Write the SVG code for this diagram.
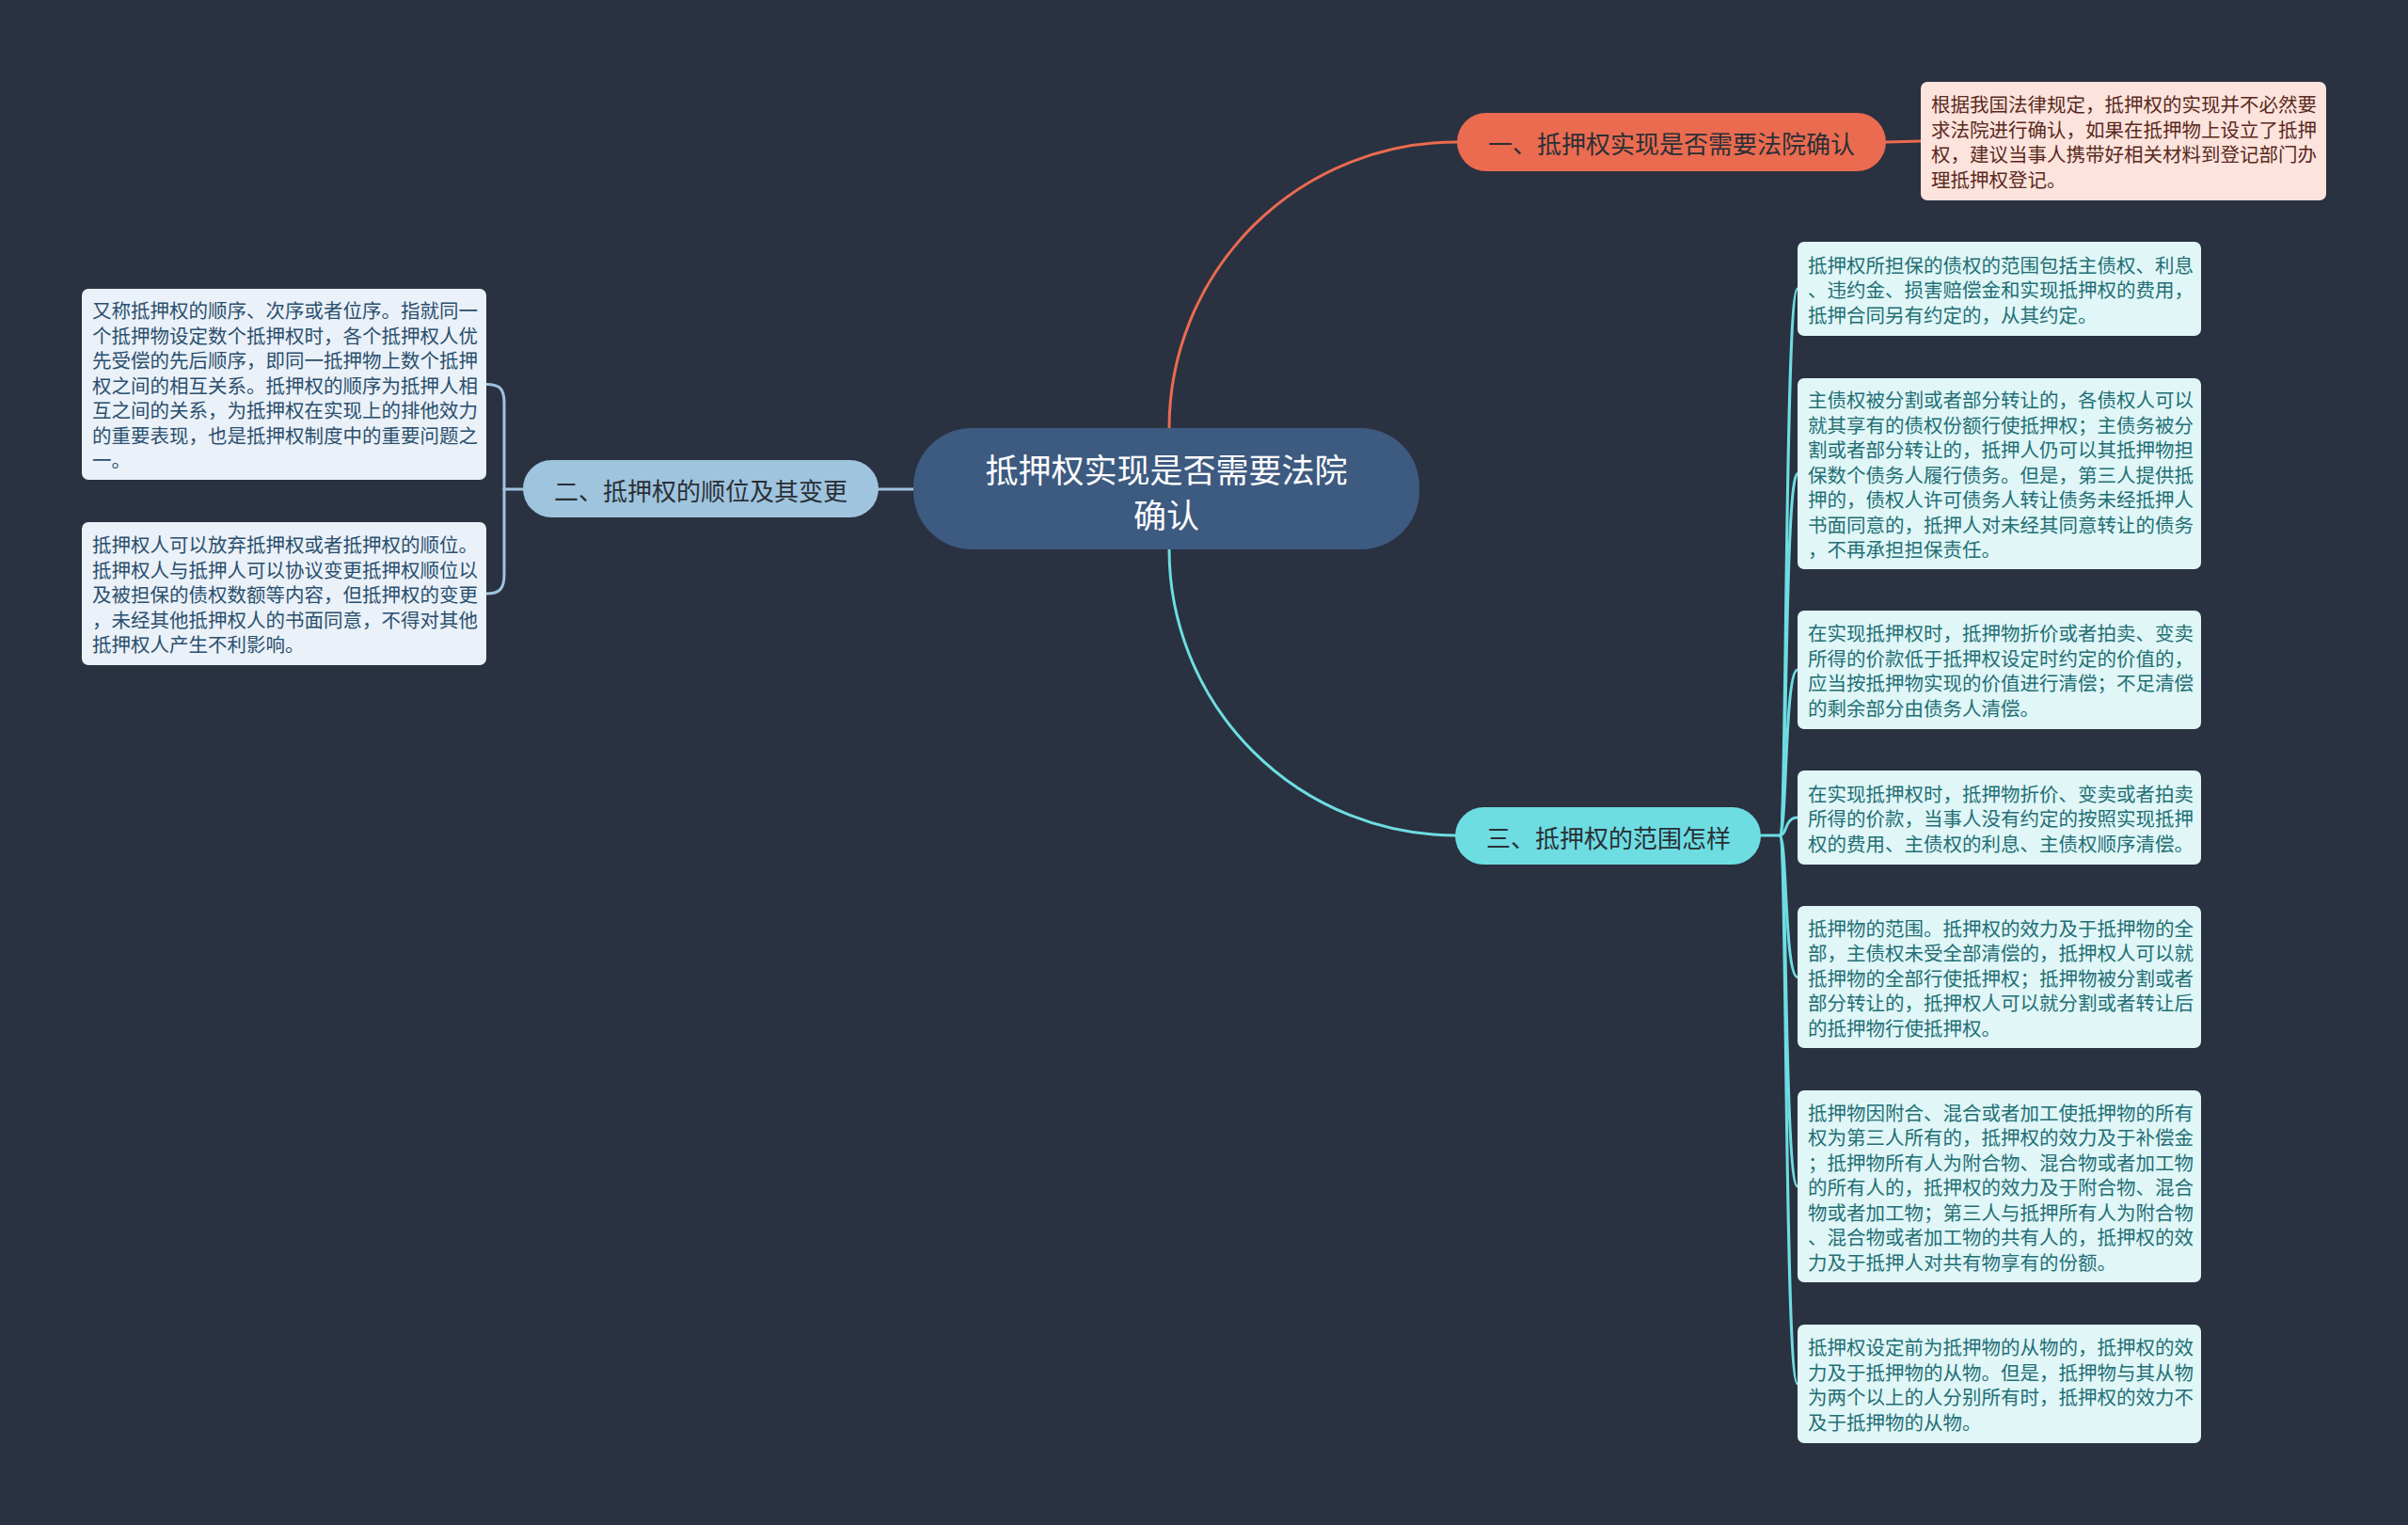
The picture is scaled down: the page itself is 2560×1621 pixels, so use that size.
<svg xmlns="http://www.w3.org/2000/svg" width="2560" height="1621" viewBox="0 0 2560 1621">
<style>
text{font-family:"Noto Sans CJK SC","Noto Sans",sans-serif;dominant-baseline:central}
.leaf{font-size:20.5px}
.lt text{fill:#2b4f6e}
.rt text{fill:#236f75}
.ot text{fill:#5a2a1e}
.br{font-size:26px;fill:#2a2f36;text-anchor:middle}
.c{fill:none;stroke-width:3;stroke-linecap:round}
</style>
<rect width="2560" height="1621" fill="#2a3140"/>
<g id="connectors">
<path class="c" stroke="#ea6b50" d="M1243,455 A305 304 0 0 1 1549,151"/>
<path class="c" stroke="#ea6b50" d="M2005,151 L2042,150"/>
<path class="c" stroke="#6ddde2" d="M1243,584 A305 304 0 0 0 1547,888"/>
<path class="c" stroke="#9ec4de" d="M971,520 L934,520"/>
<path class="c" stroke="#9ec4de" d="M556,520 L536,520"/>
<path class="c" stroke="#9ec4de" d="M536,520 L536,428 C536,413 531,408.5 517,408.5"/>
<path class="c" stroke="#9ec4de" d="M536,520 L536,611 C536,626 531,631 517,631"/>
<path class="c" stroke="#6ddde2" d="M1872,888 L1892,888"/>
<path class="c" stroke="#6ddde2" d="M1892,888 C1900,888 1897,307 1911,307"/>
<path class="c" stroke="#6ddde2" d="M1892,888 C1900,888 1897,503.5 1911,503.5"/>
<path class="c" stroke="#6ddde2" d="M1892,888 C1900,888 1897,712 1911,712"/>
<path class="c" stroke="#6ddde2" d="M1892,888 C1900,888 1897,869 1911,869"/>
<path class="c" stroke="#6ddde2" d="M1892,888 C1900,888 1897,1038.5 1911,1038.5"/>
<path class="c" stroke="#6ddde2" d="M1892,888 C1900,888 1897,1261 1911,1261"/>
<path class="c" stroke="#6ddde2" d="M1892,888 C1900,888 1897,1471 1911,1471"/>
</g>
<g id="root">
<rect x="971" y="455" width="538" height="129" rx="62" fill="#3d5a80"/>
<text x="1240" y="497" font-size="35" fill="#ffffff" text-anchor="middle">抵押权实现是否需要法院</text>
<text x="1240" y="545" font-size="35" fill="#ffffff" text-anchor="middle">确认</text>
</g>
<g id="branch1">
<rect x="1549" y="120" width="456" height="62" rx="31" fill="#ea6b50"/>
<text class="br" x="1777" y="151">一、抵押权实现是否需要法院确认</text>
</g>
<g id="branch2">
<rect x="556" y="489" width="378" height="61" rx="30.5" fill="#9ec4de"/>
<text class="br" x="745" y="520">二、抵押权的顺位及其变更</text>
</g>
<g id="branch3">
<rect x="1547" y="858" width="325" height="61" rx="30.5" fill="#6ddde2"/>
<text class="br" x="1710" y="889">三、抵押权的范围怎样</text>
</g>
<g id="leaf-o1" class="leaf ot">
<rect x="2042" y="87" width="431" height="126" rx="7" fill="#fce3dc"/>
<text x="2053" y="110.25">根据我国法律规定，抵押权的实现并不必然要</text>
<text x="2053" y="136.75">求法院进行确认，如果在抵押物上设立了抵押</text>
<text x="2053" y="163.25">权，建议当事人携带好相关材料到登记部门办</text>
<text x="2053" y="189.75">理抵押权登记。</text>
</g>
<g id="leaf-l1" class="leaf lt">
<rect x="87" y="307" width="430" height="203" rx="7" fill="#eaf1f8"/>
<text x="98" y="329">又称抵押权的顺序、次序或者位序。指就同一</text>
<text x="98" y="355.5">个抵押物设定数个抵押权时，各个抵押权人优</text>
<text x="98" y="382">先受偿的先后顺序，即同一抵押物上数个抵押</text>
<text x="98" y="408.5">权之间的相互关系。抵押权的顺序为抵押人相</text>
<text x="98" y="435">互之间的关系，为抵押权在实现上的排他效力</text>
<text x="98" y="461.5">的重要表现，也是抵押权制度中的重要问题之</text>
<text x="98" y="488">一。</text>
</g>
<g id="leaf-l2" class="leaf lt">
<rect x="87" y="555" width="430" height="152" rx="7" fill="#eaf1f8"/>
<text x="98" y="578">抵押权人可以放弃抵押权或者抵押权的顺位。</text>
<text x="98" y="604.5">抵押权人与抵押人可以协议变更抵押权顺位以</text>
<text x="98" y="631">及被担保的债权数额等内容，但抵押权的变更</text>
<text x="98" y="657.5">，未经其他抵押权人的书面同意，不得对其他</text>
<text x="98" y="684">抵押权人产生不利影响。</text>
</g>
<g id="leaf-r1" class="leaf rt">
<rect x="1911" y="257" width="429" height="100" rx="7" fill="#e0f6f7"/>
<text x="1922" y="280.5">抵押权所担保的债权的范围包括主债权、利息</text>
<text x="1922" y="307">、违约金、损害赔偿金和实现抵押权的费用，</text>
<text x="1922" y="333.5">抵押合同另有约定的，从其约定。</text>
</g>
<g id="leaf-r2" class="leaf rt">
<rect x="1911" y="402" width="429" height="203" rx="7" fill="#e0f6f7"/>
<text x="1922" y="424">主债权被分割或者部分转让的，各债权人可以</text>
<text x="1922" y="450.5">就其享有的债权份额行使抵押权；主债务被分</text>
<text x="1922" y="477">割或者部分转让的，抵押人仍可以其抵押物担</text>
<text x="1922" y="503.5">保数个债务人履行债务。但是，第三人提供抵</text>
<text x="1922" y="530">押的，债权人许可债务人转让债务未经抵押人</text>
<text x="1922" y="556.5">书面同意的，抵押人对未经其同意转让的债务</text>
<text x="1922" y="583">，不再承担担保责任。</text>
</g>
<g id="leaf-r3" class="leaf rt">
<rect x="1911" y="649" width="429" height="126" rx="7" fill="#e0f6f7"/>
<text x="1922" y="672.25">在实现抵押权时，抵押物折价或者拍卖、变卖</text>
<text x="1922" y="698.75">所得的价款低于抵押权设定时约定的价值的，</text>
<text x="1922" y="725.25">应当按抵押物实现的价值进行清偿；不足清偿</text>
<text x="1922" y="751.75">的剩余部分由债务人清偿。</text>
</g>
<g id="leaf-r4" class="leaf rt">
<rect x="1911" y="819" width="429" height="100" rx="7" fill="#e0f6f7"/>
<text x="1922" y="842.5">在实现抵押权时，抵押物折价、变卖或者拍卖</text>
<text x="1922" y="869">所得的价款，当事人没有约定的按照实现抵押</text>
<text x="1922" y="895.5">权的费用、主债权的利息、主债权顺序清偿。</text>
</g>
<g id="leaf-r5" class="leaf rt">
<rect x="1911" y="963" width="429" height="151" rx="7" fill="#e0f6f7"/>
<text x="1922" y="985.5">抵押物的范围。抵押权的效力及于抵押物的全</text>
<text x="1922" y="1012">部，主债权未受全部清偿的，抵押权人可以就</text>
<text x="1922" y="1038.5">抵押物的全部行使抵押权；抵押物被分割或者</text>
<text x="1922" y="1065">部分转让的，抵押权人可以就分割或者转让后</text>
<text x="1922" y="1091.5">的抵押物行使抵押权。</text>
</g>
<g id="leaf-r6" class="leaf rt">
<rect x="1911" y="1159" width="429" height="204" rx="7" fill="#e0f6f7"/>
<text x="1922" y="1181.5">抵押物因附合、混合或者加工使抵押物的所有</text>
<text x="1922" y="1208">权为第三人所有的，抵押权的效力及于补偿金</text>
<text x="1922" y="1234.5">；抵押物所有人为附合物、混合物或者加工物</text>
<text x="1922" y="1261">的所有人的，抵押权的效力及于附合物、混合</text>
<text x="1922" y="1287.5">物或者加工物；第三人与抵押所有人为附合物</text>
<text x="1922" y="1314">、混合物或者加工物的共有人的，抵押权的效</text>
<text x="1922" y="1340.5">力及于抵押人对共有物享有的份额。</text>
</g>
<g id="leaf-r7" class="leaf rt">
<rect x="1911" y="1408" width="429" height="126" rx="7" fill="#e0f6f7"/>
<text x="1922" y="1431.25">抵押权设定前为抵押物的从物的，抵押权的效</text>
<text x="1922" y="1457.75">力及于抵押物的从物。但是，抵押物与其从物</text>
<text x="1922" y="1484.25">为两个以上的人分别所有时，抵押权的效力不</text>
<text x="1922" y="1510.75">及于抵押物的从物。</text>
</g>
</svg>
